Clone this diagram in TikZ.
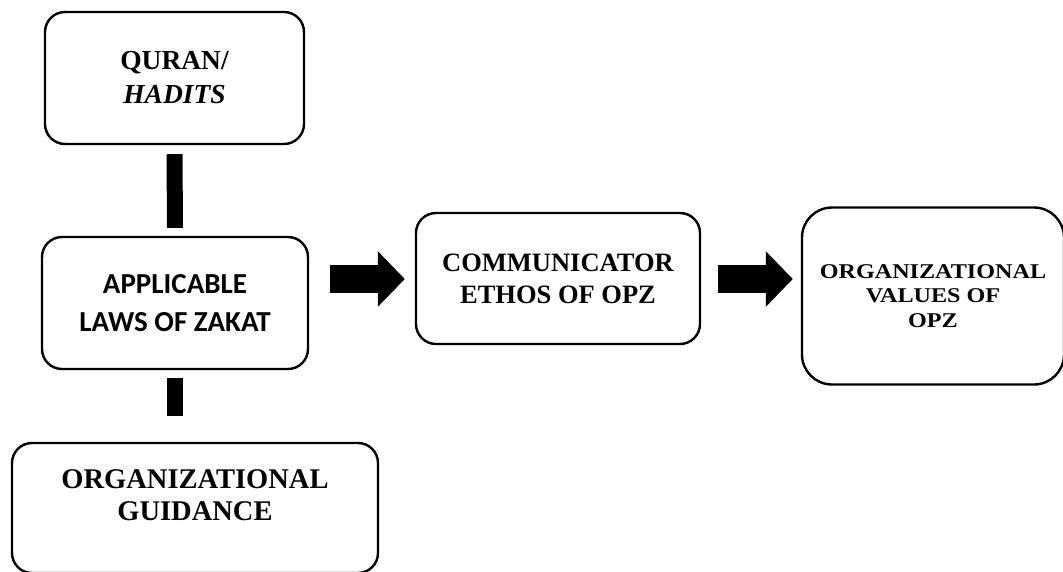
\documentclass[tikz,border=0pt]{standalone}
\usepackage{fontspec}
\setmainfont{Liberation Serif}
\newfontfamily\calibri{Carlito}
\newfontfamily\widefont[FakeStretch=1.15]{Liberation Serif}
\usetikzlibrary{arrows.meta,calc}
\begin{document}
\begin{tikzpicture}[x=1pt,y=-1pt,
  box/.style={draw,line width=2.4pt,rounded corners=20pt,align=center,inner sep=0pt},
  bar/.style={line width=16pt},
  fat/.style={line width=28pt,-{Triangle[width=54pt,length=27pt]}}]
\useasboundingbox (0,0) rectangle (1063,571);
\clip (0,0) rectangle (1063,571);

\node[box,minimum width=259pt,minimum height=132pt,
  font=\bfseries\fontsize{27.5}{34}\selectfont] (q) at (174.5,78) {QURAN/\\\textit{HADITS}};
\node[box,minimum width=266pt,minimum height=132pt,
  font=\calibri\bfseries\fontsize{29}{38}\selectfont] (a) at (175,303) {APPLICABLE\\LAWS OF ZAKAT};
\node[box,minimum width=366pt,minimum height=130pt] (g) at (195,508) {};
\node[align=center,inner sep=0pt,font=\bfseries\fontsize{28.5}{32}\selectfont] (gt) at (195,495) {ORGANIZATIONAL\\GUIDANCE};
\node[box,minimum width=284pt,minimum height=131pt,
  font=\bfseries\fontsize{26.5}{32}\selectfont] (c) at (558,278.5) {COMMUNICATOR\\ETHOS OF OPZ};
\node[box,rounded corners=30pt,minimum width=262pt,minimum height=177pt,
  font=\widefont\bfseries\fontsize{21}{24.5}\selectfont] (v) at (933,296) {ORGANIZATIONAL\\VALUES OF\\OPZ};

\draw[bar] ([yshift=-9pt]q.south) -- ([yshift=8pt]a.north);
\draw[bar] ([yshift=-8pt]a.south) -- ($(a.south |- g.north)+(0,-26)$);
\draw[fat] ($(a.east)+(21,-24)$) -- ($(c.west)+(-10,0.5)$);
\draw[fat] ($(c.east)+(17,0.5)$) -- ($(v.west)+(-8,-17)$);
\end{tikzpicture}
\end{document}
